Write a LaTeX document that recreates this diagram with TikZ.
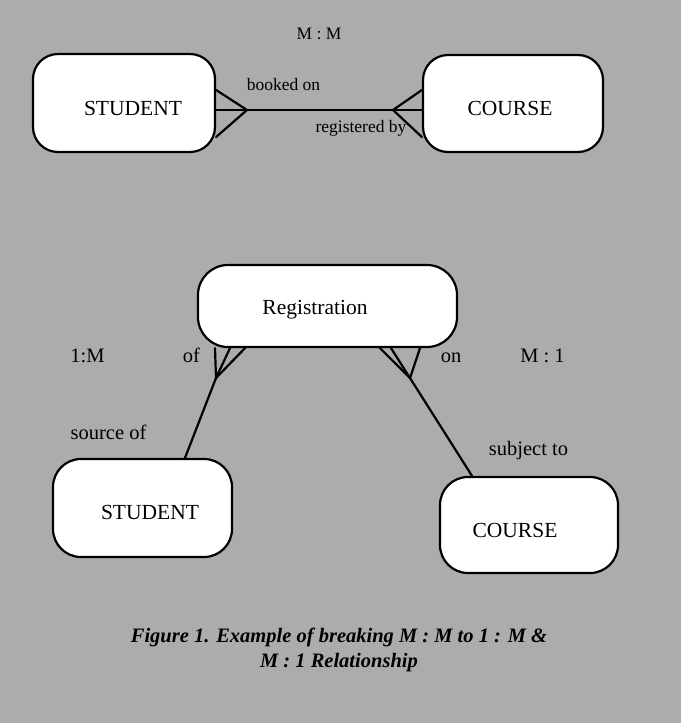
\documentclass[tikz,border=0pt]{standalone}
\usepackage{fontspec}
\setmainfont{Liberation Serif}
\usetikzlibrary{calc}
\definecolor{paper}{RGB}{172,172,172}
\tikzset{
  entity/.style={draw=black, line width=2.2pt, fill=white, inner sep=0pt, rounded corners=25pt},
  ename/.style={font=\fontsize{21.5}{25}\selectfont, anchor=base, inner sep=0pt},
  toprel/.style={font=\fontsize{17.5}{20}\selectfont, anchor=base, inner sep=0pt},
  rel/.style={font=\fontsize{20.5}{24}\selectfont, anchor=base, inner sep=0pt},
  link/.style={line width=2.2pt, line cap=round, line join=round},
  foot/.style={line width=2.2pt, line cap=round},
}
\begin{document}
\begin{tikzpicture}[x=1pt,y=-1pt]
  % paper
  \fill[paper] (0,0) rectangle (681,723);
  \useasboundingbox (0,0) rectangle (681,723);

  % ---------- many-to-many form ----------
  \node[entity, minimum width=182pt, minimum height=98pt] (s1) at (124,103) {};
  \node[entity, minimum width=180pt, minimum height=97pt] (c1) at (513,103.5) {};
  \node[ename] (s1t) at (133,115.2) {STUDENT};
  \node[ename] (c1t) at (510,115.2) {COURSE};

  \coordinate (k1) at (247,110);
  \coordinate (k2) at (393,110);
  \draw[link] (s1.east |- k1) -- (c1.west |- k2);
  % crow's feet
  \draw[foot] ($(s1.east)+(0,-13)$) -- (k1) -- ($(s1.east)+(0,34)$);
  \draw[foot] ($(c1.west)+(0,-13.5)$) -- (k2) -- ($(c1.west)+(0,33.5)$);

  \node[toprel] (mm) at (319,39) {M : M};
  \node[toprel] (bo) at (283.5,90) {booked on};
  \node[toprel] (rb) at (361,132) {registered by};

  % ---------- decomposed form ----------
  \node[entity, rounded corners=30pt, minimum width=259pt, minimum height=82pt] (reg) at (327.5,306) {};
  \node[ename] (regt) at (315,314.2) {Registration};

  \node[entity, rounded corners=28pt, minimum width=179pt, minimum height=98pt] (s2) at (142.5,508) {};
  \node[entity, rounded corners=28pt, minimum width=178pt, minimum height=96pt] (c2) at (529,525) {};
  \node[ename] (s2t) at (150,519.2) {STUDENT};
  \node[ename] (c2t) at (515,537.2) {COURSE};

  % STUDENT -- Registration (many end at Registration)
  \coordinate (f1) at (216,378);
  \draw[link] ($(s2.north)+(42.5,0)$) -- (f1) -- ($(reg.south)+(-97.5,0)$);
  \draw[foot] ($(reg.south)+(-112.5,0)$) -- (f1) -- ($(reg.south)+(-82.5,0)$);

  % COURSE -- Registration (many end at Registration)
  \coordinate (f2) at (410,378);
  \draw[link] ($(c2.north)+(-57,0)$) -- (f2) -- ($(reg.south)+(63.5,0)$);
  \draw[foot] ($(reg.south)+(52.5,0)$) -- (f2) -- ($(reg.south)+(92.5,0)$);

  \node[rel] (om) at (87.5,362) {1:M};
  \node[rel] (of) at (191.5,362) {of};
  \node[rel] (on) at (451,362) {on};
  \node[rel] (mo) at (542.5,362) {M : 1};
  \node[rel] (so) at (108.5,439) {source of};
  \node[rel] (st) at (528.5,455) {subject to};

  % caption
  \node[font=\fontsize{20.5}{25}\selectfont\bfseries\itshape, align=center, anchor=base, inner sep=0pt] (cap) at (339,667)
    {Figure 1. Example of breaking M : M to 1 : M \&\\ M : 1 Relationship};
\end{tikzpicture}
\end{document}
